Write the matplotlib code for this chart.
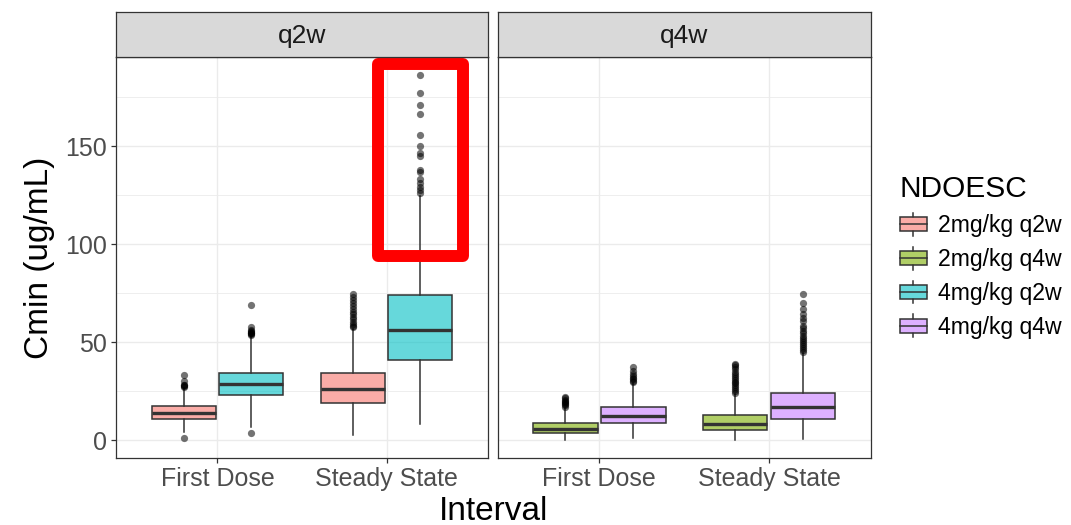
import matplotlib
matplotlib.use("Agg")
import matplotlib.pyplot as plt
from matplotlib.colors import to_rgba
from matplotlib.patches import Rectangle, Patch
from matplotlib.lines import Line2D
from matplotlib.legend_handler import HandlerBase

plt.rcParams['font.family'] = ['Liberation Sans', 'DejaVu Sans']

# categories
intervals = ["First Dose", "Steady State"]
regimens = ["q2w", "q4w"]
groups = ["2mg/kg q2w", "2mg/kg q4w", "4mg/kg q2w", "4mg/kg q4w"]
group_colors = ["#F8766D", "#7CAE00", "#00BFC4", "#C77CFF"]
panel_groups = {"q2w": ["2mg/kg q2w", "4mg/kg q2w"],
                "q4w": ["2mg/kg q4w", "4mg/kg q4w"]}

# box stats, per interval: [whislo, q1, median, q3, whishi]
stats_2q2w = [[4.2, 10.9, 14.1, 17.3, 26.5], [2.6, 19.2, 26.4, 34.4, 57.0]]
stats_4q2w = [[6.8, 23.0, 28.7, 34.4, 53.0], [8.5, 40.8, 56.1, 74.0, 124.5]]
stats_2q4w = [[0.3, 3.7, 5.9, 9.0, 16.5], [0.3, 5.4, 8.5, 12.9, 23.5]]
stats_4q4w = [[1.2, 8.7, 12.2, 17.0, 29.0], [0.8, 10.9, 17.0, 24.3, 44.5]]

# outliers per interval
fliers_2q2w = [[1.2, 27.0, 27.5, 28.0, 28.3, 30.1, 33.2],
               [57.8, 58.5, 59.5, 60.5, 62.0, 63.0, 64.5, 65.5, 67.0, 68.5,
                70.0, 71.5, 73.0, 74.8]]
fliers_4q2w = [[3.7, 53.5, 54.0, 54.5, 55.0, 55.5, 56.0, 56.5, 57.8, 68.9],
               [126.0, 127.6, 129.3, 131.0, 133.5, 137.0, 137.8, 145.0, 146.3,
                150.2, 155.6, 166.2, 170.9, 177.2, 186.2]]
fliers_2q4w = [[17.2, 17.8, 18.4, 19.0, 19.6, 20.2, 20.8, 21.5, 22.1],
               [24.0, 25.0, 26.0, 27.0, 28.0, 29.0, 30.0, 31.0, 32.0, 33.0,
                34.0, 35.0, 36.5, 37.5, 38.3, 39.1]]
fliers_4q4w = [[29.8, 30.5, 31.2, 32.0, 33.0, 34.0, 35.5, 37.4],
               [45.1, 46.0, 47.0, 48.0, 49.0, 50.0, 51.0, 52.0, 53.0, 54.5,
                56.0, 57.5, 58.5, 60.7, 62.5, 64.6, 67.0, 70.1, 74.8]]

box_stats = {"2mg/kg q2w": stats_2q2w, "4mg/kg q2w": stats_4q2w,
             "2mg/kg q4w": stats_2q4w, "4mg/kg q4w": stats_4q4w}
box_fliers = {"2mg/kg q2w": fliers_2q2w, "4mg/kg q2w": fliers_4q2w,
              "2mg/kg q4w": fliers_2q4w, "4mg/kg q4w": fliers_4q4w}

y_ticks = [0, 50, 100, 150]
y_minor = [25, 75, 125, 175]
highlight_y = (94, 192)   # red box around the q2w steady state outliers

DARK = "#333333"
GRID = "#EBEBEB"
FILL_ALPHA = 0.6
DODGE = 0.2
BOX_W = 0.38

W, H = 1071, 525
fig = plt.figure(figsize=(W / 100, H / 100), dpi=100)


def frac_box(x0, x1, y0, y1):
    # pixel box -> figure fractions
    return [x0 / W, 1 - y1 / H, (x1 - x0) / W, (y1 - y0) / H]


panel_px = [(116, 488), (497.5, 871)]
all_vals = [v for g in groups for s in box_stats[g] for v in s] + \
           [v for g in groups for f in box_fliers[g] for v in f]
lo, hi = min(all_vals), max(all_vals)
pad = 0.05 * (hi - lo)

axes = []
for i, reg in enumerate(regimens):
    x0, x1 = panel_px[i]
    ax = fig.add_axes(frac_box(x0, x1, 57, 458))
    sax = fig.add_axes(frac_box(x0, x1, 12, 57))
    axes.append(ax)

    for gi, g in enumerate(panel_groups[reg]):
        col = group_colors[groups.index(g)]
        offs = -DODGE if gi == 0 else DODGE
        bstats = []
        for k, iv in enumerate(intervals):
            wlo, q1, med, q3, whi = box_stats[g][k]
            bstats.append(dict(whislo=wlo, q1=q1, med=med, q3=q3, whishi=whi,
                               fliers=box_fliers[g][k], label=iv))
        ax.bxp(bstats, positions=[k + 1 + offs for k in range(len(intervals))],
               widths=BOX_W, patch_artist=True, showcaps=False,
               manage_ticks=False,
               boxprops=dict(facecolor=to_rgba(col, FILL_ALPHA), edgecolor=DARK,
                             linewidth=1.1),
               medianprops=dict(color=DARK, linewidth=2.4, solid_capstyle='butt'),
               whiskerprops=dict(color=DARK, linewidth=1.1),
               flierprops=dict(marker='o', markerfacecolor='black', markeredgewidth=0,
                               markersize=5.2, alpha=0.55))

    ax.set_xlim(0.4, len(intervals) + 0.6)
    ax.set_ylim(lo - pad, hi + pad)
    ax.set_xticks(range(1, len(intervals) + 1))
    ax.set_xticklabels(intervals)
    ax.set_yticks(y_ticks)
    ax.set_yticks(y_minor, minor=True)
    ax.grid(which='major', color=GRID, linewidth=1.0)
    ax.grid(which='minor', axis='y', color=GRID, linewidth=0.6)
    ax.set_axisbelow(True)
    for s in ax.spines.values():
        s.set_color(DARK)
        s.set_linewidth(0.9)
    ax.tick_params(axis='both', which='major', length=3.5, width=0.9, color=DARK,
                   labelsize=18, labelcolor="#4D4D4D", pad=3)
    ax.tick_params(axis='y', which='minor', length=0)
    if i == 1:
        ax.tick_params(axis='y', which='major', length=0, labelleft=False)

    sax.set_facecolor("#D9D9D9")
    sax.set_xticks([])
    sax.set_yticks([])
    for s in sax.spines.values():
        s.set_color(DARK)
        s.set_linewidth(0.9)
    sax.text(0.5, 0.47, reg, ha='center', va='center', fontsize=19,
             color="#1A1A1A", transform=sax.transAxes)

axes[0].set_ylabel("Cmin (ug/mL)", fontsize=24, labelpad=7)
fig.text((116 + 871) / 2 / W, 1 - 511 / H, "Interval", ha='center', va='center',
         fontsize=24)

# red highlight box on the q2w steady state outliers
hx = len(intervals) + DODGE
axes[0].add_patch(Rectangle((hx - 0.25, highlight_y[0]), 0.5,
                            highlight_y[1] - highlight_y[0], fill=False,
                            edgecolor='#FF0000', linewidth=8.6, joinstyle='round',
                            clip_on=False, zorder=10))


class BoxKey(HandlerBase):
    def create_artists(self, legend, orig_handle, xdescent, ydescent,
                       width, height, fontsize, trans):
        x0, y0 = -xdescent, -ydescent
        cx = x0 + width / 2
        fc = orig_handle.get_facecolor()
        arts = [
            Line2D([cx, cx], [y0, y0 + 0.2 * height], color=DARK, lw=1.1),
            Line2D([cx, cx], [y0 + 0.8 * height, y0 + height], color=DARK, lw=1.1),
            Rectangle((x0, y0 + 0.2 * height), width, 0.6 * height,
                      facecolor=fc, edgecolor=DARK, lw=1.1),
            Line2D([x0, x0 + width], [y0 + 0.5 * height] * 2, color=DARK, lw=1.1),
        ]
        for a in arts:
            a.set_transform(trans)
        return arts


handles = [Patch(facecolor=to_rgba(c, FILL_ALPHA)) for c in group_colors]
leg = fig.legend(handles, groups, loc='upper left',
                 bbox_to_anchor=(900 / W, 1 - 175 / H), frameon=False,
                 title="NDOESC", title_fontsize=21.5, fontsize=16.6,
                 handler_map={Patch: BoxKey()}, handlelength=1.15,
                 handleheight=1.15, labelspacing=0.42, handletextpad=0.5,
                 borderpad=0, borderaxespad=0, alignment='left')

fig.savefig("out.png", dpi=100)
